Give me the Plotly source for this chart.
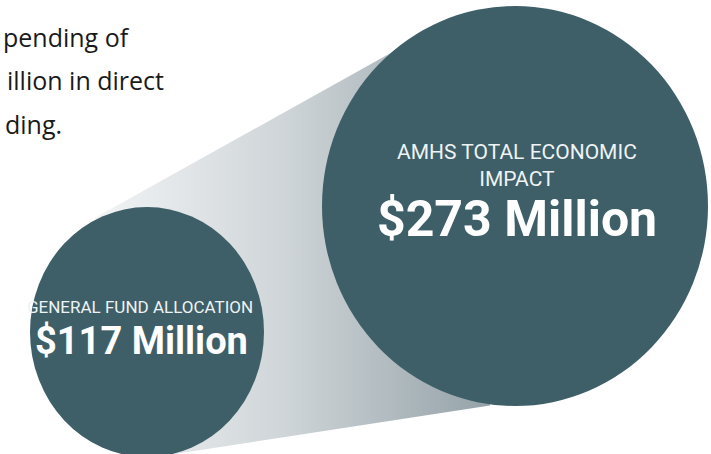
import plotly.graph_objects as go

# ---- data ----
intro_lines = ["pending of", "illion in direct", "ding."]
circle_labels = ["GENERAL FUND ALLOCATION", "AMHS TOTAL ECONOMIC<br>IMPACT"]
circle_values = [117, 273]  # $ millions

# ---- layout geometry (pixels, canvas 711x454) ----
W, H = 711, 454
small_c = (147, 332, 117, 125)   # cx, cy, rx, ry
big_c = (515, 206, 193, 200)

def top_line(x):
    return 200 - 0.558 * (x - 127)

def bot_line(x):
    return 447 - 0.154 * (x - 220)

CIRCLE = "#3e5f68"

fig = go.Figure()

# cone connecting the circles (gradient filled polygon)
cx = [95, 392, big_c[0], 490, 150, small_c[0], 95]
cy = [top_line(95), top_line(392), big_c[1], bot_line(490), bot_line(150), small_c[1], top_line(95)]
fig.add_trace(go.Scatter(
    x=cx, y=cy, mode="lines", fill="toself", line=dict(width=0),
    fillgradient=dict(type="horizontal",
                      colorscale=[[0, "#f2f4f5"], [0.45, "#cfd5d8"], [1, "#8d9ca3"]]),
    hoverinfo="skip", showlegend=False))

shapes = []
for (x0, y0, rx, ry) in (small_c, big_c):
    shapes.append(dict(type="circle", xref="x", yref="y",
                       x0=x0 - rx, x1=x0 + rx, y0=y0 - ry, y1=y0 + ry,
                       fillcolor=CIRCLE, line=dict(width=0), layer="above"))

annotations = []
# intro text (continuation of a paragraph that starts left of the frame)
intro_pos = [(131, 37), (165, 80), (63, 124)]
for t, (x, y) in zip(intro_lines, intro_pos):
    annotations.append(dict(x=x, y=y, xref="x", yref="y", text=t, showarrow=False,
                            xanchor="right", yanchor="middle", borderpad=0,
                            font=dict(family="Open Sans, Noto Sans, sans-serif", size=25, color="#1a1a1a")))

cond = "Roboto, Liberation Sans, sans-serif"
label_pos = [(140, 307), (517, 165)]
label_size = [17, 21]
value_pos = [(141, 341), (517, 219)]
value_size = [38, 50]
for lab, v, lp, ls, vp, vs in zip(circle_labels, circle_values, label_pos, label_size, value_pos, value_size):
    annotations.append(dict(x=lp[0], y=lp[1], xref="x", yref="y", text=lab, showarrow=False,
                            xanchor="center", yanchor="middle",
                            font=dict(family=cond, size=ls, color="#eef3f4")))
    annotations.append(dict(x=vp[0], y=vp[1], xref="x", yref="y", text=f"<b>${v} Million</b>",
                            showarrow=False, xanchor="center", yanchor="middle",
                            font=dict(family=cond, size=vs, color="#ffffff")))

fig.update_layout(
    width=W, height=H, margin=dict(l=0, r=0, t=0, b=0),
    paper_bgcolor="white", plot_bgcolor="white",
    xaxis=dict(range=[0, W], visible=False, fixedrange=True),
    yaxis=dict(range=[H, 0], visible=False, fixedrange=True),
    shapes=shapes, annotations=annotations, showlegend=False)

fig.write_html("out.html", config={"displayModeBar": False},
               post_script="document.body.style.margin='0px';")
